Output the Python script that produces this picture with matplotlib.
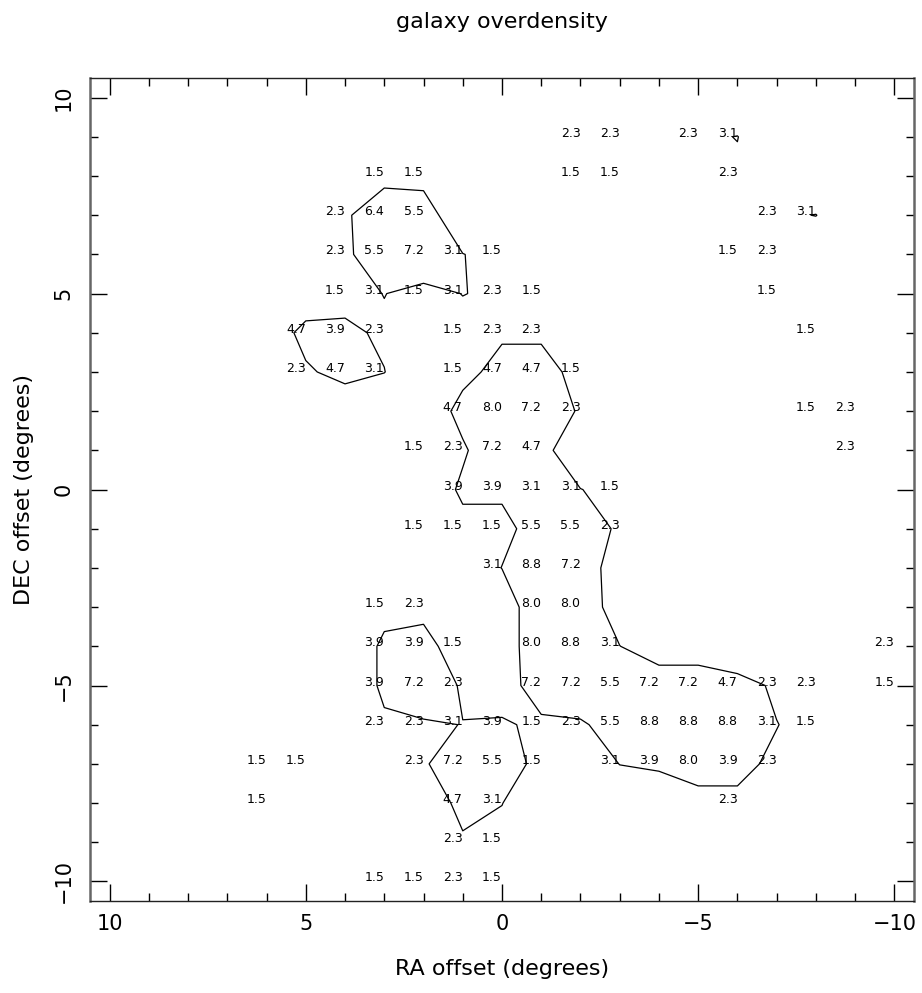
import numpy as np
import matplotlib
matplotlib.use("Agg")
import matplotlib.pyplot as plt
from matplotlib.ticker import MultipleLocator

# grid nodes (degrees) and overdensity (sigma) where it is above the print threshold
ra = [-2, -3, -5, -6,
      3, 2, -2, -3, -6,
      4, 3, 2, -7, -8,
      4, 3, 2, 1, 0, -6, -7,
      4, 3, 2, 1, 0, -1, -7,
      5, 4, 3, 1, 0, -1, -8,
      5, 4, 3, 1, 0, -1, -2,
      1, 0, -1, -2, -8, -9,
      2, 1, 0, -1, -9,
      1, 0, -1, -2, -3,
      2, 1, 0, -1, -2, -3,
      0, -1, -2,
      3, 2, -1, -2,
      3, 2, 1, -1, -2, -3, -10,
      3, 2, 1, -1, -2, -3, -4, -5, -6, -7, -8, -10,
      3, 2, 1, 0, -1, -2, -3, -4, -5, -6, -7, -8,
      6, 5, 2, 1, 0, -1, -3, -4, -5, -6, -7,
      6, 1, 0, -6,
      1, 0,
      3, 2, 1, 0]
dec = ([9] * 4 + [8] * 5 + [7] * 5 + [6] * 7 + [5] * 7 + [4] * 7 + [3] * 7
       + [2] * 6 + [1] * 5 + [0] * 5 + [-1] * 6 + [-2] * 3 + [-3] * 4
       + [-4] * 7 + [-5] * 12 + [-6] * 12 + [-7] * 11 + [-8] * 4 + [-9] * 2
       + [-10] * 4)
sigma = [2.3, 2.3, 2.3, 3.1,
         1.5, 1.5, 1.5, 1.5, 2.3,
         2.3, 6.4, 5.5, 2.3, 3.1,
         2.3, 5.5, 7.2, 3.1, 1.5, 1.5, 2.3,
         1.5, 3.1, 1.5, 3.1, 2.3, 1.5, 1.5,
         4.7, 3.9, 2.3, 1.5, 2.3, 2.3, 1.5,
         2.3, 4.7, 3.1, 1.5, 4.7, 4.7, 1.5,
         4.7, 8.0, 7.2, 2.3, 1.5, 2.3,
         1.5, 2.3, 7.2, 4.7, 2.3,
         3.9, 3.9, 3.1, 3.1, 1.5,
         1.5, 1.5, 1.5, 5.5, 5.5, 2.3,
         3.1, 8.8, 7.2,
         1.5, 2.3, 8.0, 8.0,
         3.9, 3.9, 1.5, 8.0, 8.8, 3.1, 2.3,
         3.9, 7.2, 2.3, 7.2, 7.2, 5.5, 7.2, 7.2, 4.7, 2.3, 2.3, 1.5,
         2.3, 2.3, 3.1, 3.9, 1.5, 2.3, 5.5, 8.8, 8.8, 8.8, 3.1, 1.5,
         1.5, 1.5, 2.3, 7.2, 5.5, 1.5, 3.1, 3.9, 8.0, 3.9, 2.3,
         1.5, 4.7, 3.1, 2.3,
         2.3, 1.5,
         1.5, 1.5, 2.3, 1.5]
blank_sigma = -0.9     # unprinted cells sit below the threshold
contour_level = 3.0

grid_ra = np.arange(-10, 11)
grid_dec = np.arange(-10, 11)
field = np.full((len(grid_dec), len(grid_ra)), blank_sigma)
for x, y, s in zip(ra, dec, sigma):
    field[y + 10, x + 10] = s

fig = plt.figure(figsize=(9.22, 9.93), dpi=100)
ax = fig.add_axes([0.0976, 0.0926, 0.8937, 0.8288])

ax.contour(grid_ra, grid_dec, field, levels=[contour_level],
           colors="black", linewidths=0.9)
for x, y, s in zip(ra, dec, sigma):
    ax.text(x, y, f"{s:.1f}", ha="right", va="baseline", fontsize=9)

ax.set_xlim(10.5, -10.5)
ax.set_ylim(-10.5, 10.5)
ax.xaxis.set_major_locator(MultipleLocator(5))
ax.xaxis.set_minor_locator(MultipleLocator(1))
ax.yaxis.set_major_locator(MultipleLocator(5))
ax.yaxis.set_minor_locator(MultipleLocator(1))
ax.tick_params(which="both", direction="in", top=True, right=True,
               color="black", width=1.0)
ax.tick_params(which="major", length=12, labelsize=15)
ax.tick_params(which="minor", length=6)
ax.tick_params(axis="x", which="major", pad=9)
ax.tick_params(axis="y", which="major", pad=12)
for lab in ax.get_yticklabels():
    lab.set_rotation(90)
    lab.set_va("center")

for side in ("left", "right"):
    ax.spines[side].set_color("#666666")
    ax.spines[side].set_linewidth(1.8)
for side in ("top", "bottom"):
    ax.spines[side].set_color("#222222")
    ax.spines[side].set_linewidth(1.0)

ax.set_xlabel("RA offset (degrees)", fontsize=16, labelpad=18)
ax.set_ylabel("DEC offset (degrees)", fontsize=16, labelpad=14)
fig.text(0.544, 0.978, "galaxy overdensity", ha="center", va="center",
         fontsize=16)

fig.savefig("out.png", dpi=100)
